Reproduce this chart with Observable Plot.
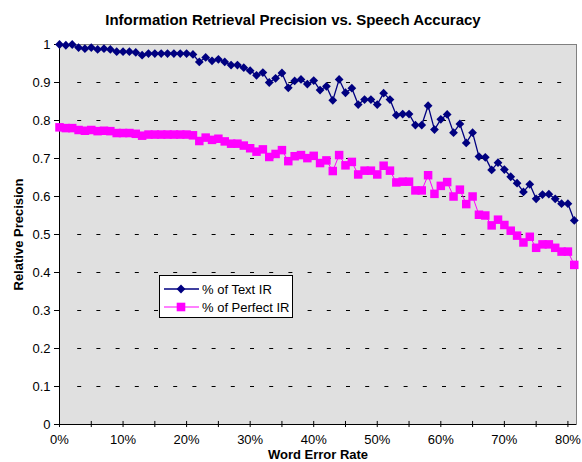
<!DOCTYPE html>
<html><head><meta charset="utf-8">
<script src="https://cdn.jsdelivr.net/npm/d3@7"></script>
<script src="https://cdn.jsdelivr.net/npm/@observablehq/plot@0.6"></script>
<style>
body{margin:0;background:#fff;font-family:Arial,"Liberation Sans",sans-serif;}
#wrap{position:relative;width:582px;height:462px;overflow:hidden;}
#title{height:30px;box-sizing:border-box;padding-top:11px;line-height:17px;font-weight:bold;font-size:15px;text-align:center;padding-left:4px;white-space:nowrap;}
#legend{position:absolute;left:159px;top:275px;width:134px;height:43px;box-sizing:border-box;border:1px solid #000;background:#fff;font-size:13px;}
.lrow{position:absolute;left:3px;height:18px;display:flex;align-items:center;white-space:nowrap;}
.lrow svg{margin-right:2px;}
</style></head>
<body>
<div id="wrap">
<div id="title">Information Retrieval Precision vs. Speech Accuracy</div>
<div id="chart"></div>
<div id="legend"></div>
</div>
<script>
// Word error rate (%) for each measured point
const werPercent = [0,1,2,3,4,5,6,7,8,9,10,11,12,13,14,15,16,17,18,19,20,21,22,23,24,25,26,27,28,29,30,31,32,33,34,35,36,37,38,39,40,41,42,43,44,45,46,47,48,49,50,51,52,53,54,55,56,57,58,59,60,61,62,63,64,65,66,67,68,69,70,71,72,73,74,75,76,77,78,79,80,81];
// % of Text IR
const textIR = [1.0,0.998,1.0,0.992,0.989,0.992,0.987,0.989,0.987,0.981,0.981,0.981,0.979,0.972,0.976,0.976,0.976,0.976,0.976,0.976,0.976,0.974,0.954,0.966,0.957,0.961,0.954,0.946,0.946,0.939,0.931,0.919,0.926,0.900,0.911,0.925,0.886,0.904,0.908,0.896,0.905,0.880,0.890,0.853,0.908,0.873,0.885,0.842,0.855,0.855,0.842,0.872,0.855,0.814,0.817,0.817,0.788,0.788,0.839,0.776,0.803,0.816,0.768,0.791,0.741,0.768,0.705,0.703,0.670,0.689,0.671,0.652,0.635,0.612,0.632,0.594,0.605,0.606,0.594,0.581,0.581,0.537];
// % of Perfect IR
const perfectIR = [0.782,0.780,0.780,0.775,0.773,0.775,0.772,0.773,0.772,0.767,0.767,0.767,0.765,0.760,0.763,0.763,0.763,0.763,0.763,0.763,0.763,0.761,0.746,0.755,0.749,0.752,0.745,0.739,0.739,0.734,0.727,0.718,0.724,0.704,0.712,0.722,0.693,0.706,0.709,0.701,0.707,0.688,0.695,0.667,0.709,0.682,0.691,0.658,0.668,0.668,0.658,0.681,0.668,0.637,0.639,0.639,0.616,0.616,0.656,0.607,0.628,0.638,0.600,0.618,0.580,0.600,0.552,0.550,0.524,0.539,0.525,0.510,0.497,0.479,0.494,0.465,0.474,0.474,0.465,0.455,0.455,0.420];
const seriesNames = ["% of Text IR", "% of Perfect IR"];
const yTicks = [0,0.1,0.2,0.3,0.4,0.5,0.6,0.7,0.8,0.9,1];
const xTicks = [0,0.05,0.1,0.15,0.2,0.25,0.3,0.35,0.4,0.45,0.5,0.55,0.6,0.65,0.7,0.75,0.8];
const xLabelTicks = [0,0.1,0.2,0.3,0.4,0.5,0.6,0.7,0.8];

const textColor = "#000080";
const perfectColor = "#FF00FF";

const data = werPercent.map((w, i) => ({x: w / 100, text: textIR[i], perfect: perfectIR[i]}));

const chart = Plot.plot({
  width: 582, height: 432,
  marginLeft: 59, marginRight: 6, marginTop: 14, marginBottom: 38,
  style: {fontFamily: "Arial, 'Liberation Sans', sans-serif", fontSize: "13px", background: "transparent", overflow: "visible"},
  x: {domain: [0, 0.8135]},
  y: {domain: [0, 1]},
  marks: [
    Plot.frame({fill: "#E0E0E0", stroke: "#808080"}),
    Plot.gridY(yTicks.filter(t => t > 0 && t < 1), {stroke: "#000", strokeOpacity: 1, strokeDasharray: "4,15.2", strokeDashoffset: 4, insetLeft: 3}),
    Plot.ruleX([0], {stroke: "#000"}),
    Plot.ruleY([0], {stroke: "#000"}),
    Plot.axisY(yTicks, {tickSize: 5, tickPadding: 4, tickFormat: d => String(+d.toFixed(1)), label: null}),
    Plot.axisX(xLabelTicks, {tickSize: 0, tickPadding: 10, tickFormat: d => Math.round(d * 100) + "%", label: null}),
    Plot.ruleX(xTicks, {x: d => d, y1: -0.008, y2: 0.008, stroke: "#000"}),
    Plot.text(["Word Error Rate"], {text: d => d, frameAnchor: "bottom", dy: 30, textAnchor: "middle", lineAnchor: "middle", fontWeight: "bold", fontSize: 13}),
    Plot.text(["Relative Precision"], {text: d => d, frameAnchor: "left", dx: -41, rotate: -90, textAnchor: "middle", lineAnchor: "middle", fontWeight: "bold", fontSize: 13}),
    Plot.line(data, {x: "x", y: "perfect", stroke: perfectColor, strokeWidth: 1}),
    Plot.dot(data, {x: "x", y: "perfect", symbol: "square", r: 4.8, fill: perfectColor, stroke: "none"}),
    Plot.line(data, {x: "x", y: "text", stroke: textColor, strokeWidth: 1.3}),
    Plot.dot(data, {x: "x", y: "text", symbol: "square", r: 3.5, rotate: 45, fill: textColor, stroke: "none"})
  ]
});
document.getElementById("chart").appendChild(chart);

// Legend
const legend = document.getElementById("legend");
const items = [
  {name: seriesNames[0], color: textColor, marker: "diamond"},
  {name: seriesNames[1], color: perfectColor, marker: "square"}
];
items.forEach((it, i) => {
  const row = document.createElement("div");
  row.className = "lrow";
  row.style.top = (i === 0 ? 4 : 22) + "px";
  const m = it.marker === "diamond"
    ? `<path d="M18,4.6L22.4,9L18,13.4L13.6,9Z" fill="${it.color}"/>`
    : `<rect x="13.7" y="4.7" width="8.6" height="8.6" fill="${it.color}"/>`;
  row.innerHTML = `<svg width="37" height="18"><line x1="1" y1="9" x2="36" y2="9" stroke="${it.color}" stroke-width="${i === 0 ? 1.3 : 1}"/>${m}</svg><span>${it.name}</span>`;
  legend.appendChild(row);
});
</script>
</body></html>
